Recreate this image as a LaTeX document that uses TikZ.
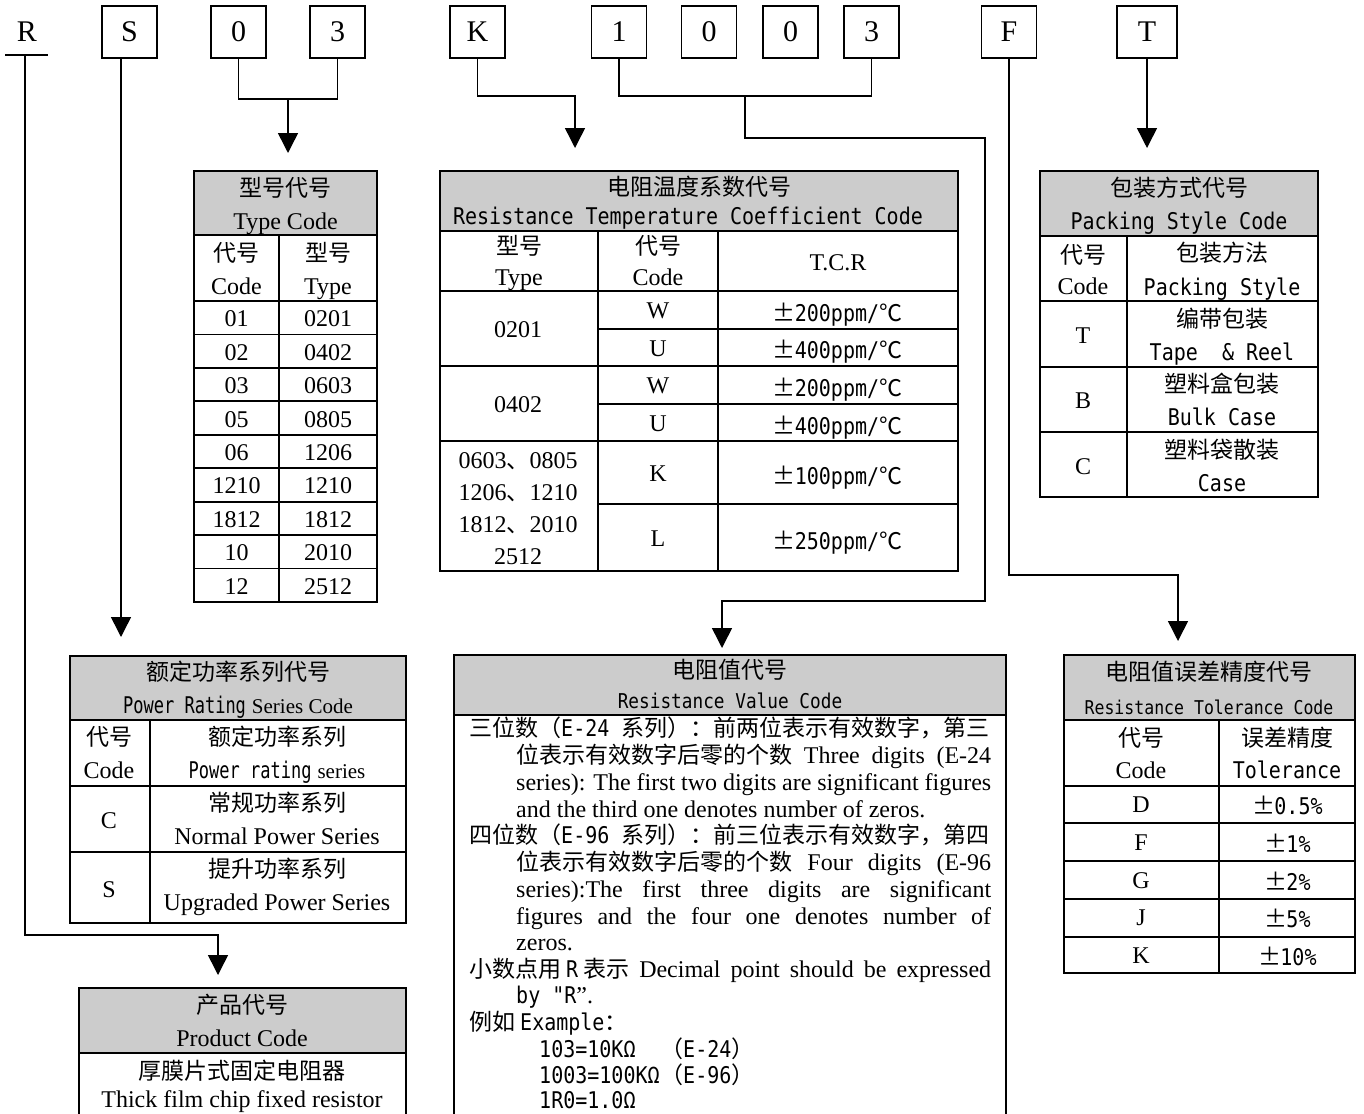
\documentclass[tikz,border=0pt]{standalone}
\usepackage{fontspec}
\usepackage{graphicx}
\setmainfont{Liberation Serif}
\newfontfamily\mycjk{Noto Sans CJK SC}
\newfontfamily\mymono[FakeStretch=0.87]{DejaVu Sans Mono}
\usetikzlibrary{arrows.meta}
\definecolor{hdrgray}{HTML}{CCCCCC}
\newcommand\ZH[1]{{\mycjk\fontsize{23}{26}\selectfont #1}}
\newcommand\MN[1]{{\mymono\fontsize{23}{26}\selectfont #1}}
\newcommand\MNS[2]{{\mymono\fontsize{#1}{#1}\selectfont #2}}
\newcommand\PM{\makebox[21pt][c]{\ZH{±}}}
\newcommand\DEG{\ZH{℃}}
\begin{document}
\begin{tikzpicture}[x=1pt,y=-1pt,
  font=\fontsize{24}{28}\selectfont,
  t/.style={inner sep=0pt,text height=16pt,text depth=0pt},
  letterbox/.style={draw,line width=1.6pt,minimum width=55pt,minimum height=52pt,inner sep=0pt,text height=20pt,text depth=0pt,font=\fontsize{30}{30}\selectfont},
  frame/.style={draw,line width=1.8pt,inner sep=0pt,outer sep=0pt},
  tab/.style={line width=1.8pt},
  conn/.style={line width=1.5pt},
  arr/.style={conn,-{Triangle[length=20pt,width=20pt]}}]
\useasboundingbox (0,0) rectangle (1364,1113);
\clip (0,0) rectangle (1364,1113);
\fill[white] (0,0) rectangle (1364,1113);

% ---------------- top code letters ----------------
\node[t,text height=20pt,font=\fontsize{30}{30}\selectfont] (bR) at (27,32) {R};
\coordinate (Ru) at (25,55);
\draw[conn] (5,55) -- (48,55);
\node[letterbox] (bS) at (129.5,32) {S};
\node[letterbox] (b0) at (238.5,32) {0};
\node[letterbox] (b3a) at (337.5,32) {3};
\node[letterbox] (bK) at (477.5,32) {K};
\node[letterbox] (b1) at (619,32) {1};
\node[letterbox] (b0b) at (709,32) {0};
\node[letterbox] (b0c) at (790.5,32) {0};
\node[letterbox] (b3b) at (871.5,32) {3};
\node[letterbox] (bF) at (1009,32) {F};
\node[letterbox,minimum width=60pt] (bT) at (1147,32) {T};

% ---------------- arrow targets ----------------
\coordinate (typearr) at (288,153);
\coordinate (tcrarr) at (575,148);
\coordinate (packarr) at (1147,148);
\coordinate (powarr) at (121,637);
\coordinate (valarr) at (722,648);
\coordinate (tolarr) at (1178,641);
\coordinate (prodarr) at (218,975);
\coordinate (j03) at (288,99);
\coordinate (jK) at (575,96);
\coordinate (j1003) at (745,96);
\coordinate (jF) at (1178,575);

% ---------------- connectors ----------------
\draw[arr] (Ru) -- (25,935) -| (prodarr);
\draw[arr] (bS.south -| powarr) -- (powarr);
\draw[conn] (b0.south) |- (j03) -| (b3a.south);
\draw[arr] (j03) -- (typearr);
\draw[arr] (bK.south) |- (jK) -- (tcrarr);
\draw[conn] (b1.south) |- (j1003) -| (b3b.south);
\draw[arr] (j1003) -- (745,138) -| (985,601) -| (valarr);
\draw[arr] (bF.south) |- (jF) -- (tolarr);
\draw[arr] (bT.south) -- (packarr);

% ---------------- Type code table ----------------
\fill[hdrgray] (194,171) rectangle (377,235);
\node[frame,minimum width=183pt,minimum height=431pt,anchor=north west] (typetab) at (194,171) {};
\draw[tab] (194,235) -- (377,235);
\draw[tab] (194,301) -- (377,301);
\foreach \i in {1,...,8} \draw[tab] (194,{301+33.44*\i}) -- (377,{301+33.44*\i});
\draw[tab] (279,235) -- (279,602);
\node[t] (ty1) at (285.5,188) {\ZH{型号代号}};
\node[t] (ty2) at (285.5,221) {Type Code};
\node[t] (ty3) at (236.5,253) {\ZH{代号}};
\node[t] (ty4) at (236.5,286) {Code};
\node[t] (ty5) at (328,253) {\ZH{型号}};
\node[t] (ty6) at (328,286) {Type};
\foreach \a/\b [count=\i from 0] in {01/0201,02/0402,03/0603,05/0805,06/1206,1210/1210,1812/1812,10/2010,12/2512}{
  \node[t] (tyc\i) at (236.5,{318.7+33.44*\i}) {\a};
  \node[t] (tyt\i) at (328,{318.7+33.44*\i}) {\b};
}

% ---------------- TCR table ----------------
\fill[hdrgray] (440,171) rectangle (958,231);
\node[frame,minimum width=518pt,minimum height=400pt,anchor=north west] (tcrtab) at (440,171) {};
\draw[tab] (440,231) -- (958,231);
\draw[tab] (440,291) -- (958,291);
\draw[tab] (440,366) -- (958,366);
\draw[tab] (440,441) -- (958,441);
\draw[tab] (598,329) -- (958,329);
\draw[tab] (598,404) -- (958,404);
\draw[tab] (598,504) -- (958,504);
\draw[tab] (598,231) -- (598,571);
\draw[tab] (718,231) -- (718,571);
\node[t] (tc1) at (699,187) {\ZH{电阻温度系数代号}};
\node[t] (tc2) at (688,216) {\MN{Resistance Temperature Coefficient Code}};
\node[t] (tc3) at (519,246) {\ZH{型号}};
\node[t] (tc4) at (519,277) {Type};
\node[t] (tc5) at (658,246) {\ZH{代号}};
\node[t] (tc6) at (658,277) {Code};
\node[t] (tc7) at (838,262) {T.C.R};
\node[t] (tc8) at (518,329) {0201};
\node[t] (tc9) at (518,404) {0402};
\node[t] (tc10) at (518,460) {0603\ZH{、}0805};
\node[t] (tc11) at (518,492) {1206\ZH{、}1210};
\node[t] (tc12) at (518,524) {1812\ZH{、}2010};
\node[t] (tc13) at (518,556) {2512};
\node[t] (tc14) at (658,310) {W};
\node[t] (tc15) at (658,348) {U};
\node[t] (tc16) at (658,385) {W};
\node[t] (tc17) at (658,423) {U};
\node[t] (tc18) at (658,473) {K};
\node[t] (tc19) at (658,538) {L};
\node[t] (tc20) at (838,313) {\PM\MN{200ppm/}\DEG};
\node[t] (tc21) at (838,350) {\PM\MN{400ppm/}\DEG};
\node[t] (tc22) at (838,388) {\PM\MN{200ppm/}\DEG};
\node[t] (tc23) at (838,426) {\PM\MN{400ppm/}\DEG};
\node[t] (tc24) at (838,476) {\PM\MN{100ppm/}\DEG};
\node[t] (tc25) at (838,541) {\PM\MN{250ppm/}\DEG};

% ---------------- Packing table ----------------
\fill[hdrgray] (1040,171) rectangle (1318,236);
\node[frame,minimum width=278pt,minimum height=326pt,anchor=north west] (packtab) at (1040,171) {};
\draw[tab] (1040,236) -- (1318,236);
\draw[tab] (1040,301) -- (1318,301);
\draw[tab] (1040,367) -- (1318,367);
\draw[tab] (1040,432) -- (1318,432);
\draw[tab] (1127,236) -- (1127,497);
\node[t] (pk1) at (1179,188) {\ZH{包装方式代号}};
\node[t] (pk2) at (1179,221) {\MN{Packing Style Code}};
\node[t] (pk3) at (1083,255) {\ZH{代号}};
\node[t] (pk4) at (1083,286) {Code};
\node[t] (pk5) at (1222,253) {\ZH{包装方法}};
\node[t] (pk6) at (1222,287) {\MN{Packing Style}};
\node[t] (pk7) at (1083,335) {T};
\node[t] (pk8) at (1222,319) {\ZH{编带包装}};
\node[t] (pk9) at (1222,352) {\MN{Tape\ \ \& Reel}};
\node[t] (pk10) at (1083,400) {B};
\node[t] (pk11) at (1222,384) {\ZH{塑料盒包装}};
\node[t] (pk12) at (1222,417) {\MN{Bulk Case}};
\node[t] (pk13) at (1083,466) {C};
\node[t] (pk14) at (1222,450) {\ZH{塑料袋散装}};
\node[t] (pk15) at (1222,483) {\MN{Case}};

% ---------------- Power rating table ----------------
\fill[hdrgray] (70,656) rectangle (406,720);
\node[frame,minimum width=336pt,minimum height=267pt,anchor=north west] (powtab) at (70,656) {};
\draw[tab] (70,720) -- (406,720);
\draw[tab] (70,786) -- (406,786);
\draw[tab] (70,852) -- (406,852);
\draw[tab] (150,720) -- (150,923);
\node[t] (pw1) at (238,672) {\ZH{额定功率系列代号}};
\node[t] (pw2) at (238,705) {\scalebox{0.85}[1]{\MN{Power Rating}} {\fontsize{21}{24}\selectfont Series Code}};
\node[t] (pw3) at (109,737) {\ZH{代号}};
\node[t] (pw4) at (109,770) {Code};
\node[t] (pw5) at (277,737) {\ZH{额定功率系列}};
\node[t] (pw6) at (277,770) {\scalebox{0.85}[1]{\MN{Power rating}} {\fontsize{21}{24}\selectfont series}};
\node[t] (pw7) at (109,820) {C};
\node[t] (pw8) at (277,803) {\ZH{常规功率系列}};
\node[t] (pw9) at (277,836) {Normal Power Series};
\node[t] (pw10) at (109,889) {S};
\node[t] (pw11) at (277,869) {\ZH{提升功率系列}};
\node[t] (pw12) at (277,902) {Upgraded Power Series};

% ---------------- Tolerance table ----------------
\fill[hdrgray] (1064,655) rectangle (1355,720);
\node[frame,minimum width=291pt,minimum height=318pt,anchor=north west] (toltab) at (1064,655) {};
\draw[tab] (1064,720) -- (1355,720);
\draw[tab] (1064,786) -- (1355,786);
\draw[tab] (1064,823) -- (1355,823);
\draw[tab] (1064,861) -- (1355,861);
\draw[tab] (1064,899) -- (1355,899);
\draw[tab] (1064,937) -- (1355,937);
\draw[tab] (1219,720) -- (1219,973);
\node[t] (tl1) at (1209,672) {\ZH{电阻值误差精度代号}};
\node[t] (tl2) at (1209,706) {\MNS{19}{Resistance Tolerance Code}};
\node[t] (tl3) at (1141,738) {\ZH{代号}};
\node[t] (tl4) at (1141,770) {Code};
\node[t] (tl5) at (1287,738) {\ZH{误差精度}};
\node[t] (tl6) at (1287,770) {\MN{Tolerance}};
\node[t] (tl7) at (1141,804) {D};
\node[t] (tl8) at (1288,806) {\PM\MN{0.5\%}};
\node[t] (tl9) at (1141,842) {F};
\node[t] (tl10) at (1288,844) {\PM\MN{1\%}};
\node[t] (tl11) at (1141,880) {G};
\node[t] (tl12) at (1288,882) {\PM\MN{2\%}};
\node[t] (tl13) at (1141,917) {J};
\node[t] (tl14) at (1288,919) {\PM\MN{5\%}};
\node[t] (tl15) at (1141,955) {K};
\node[t] (tl16) at (1288,957) {\PM\MN{10\%}};

% ---------------- Resistance value box ----------------
\fill[hdrgray] (454,655) rectangle (1006,715);
\draw[tab] (454,1130) -- (454,655) -- (1006,655) -- (1006,1130);
\draw[tab] (454,715) -- (1006,715);
\node[t] (rv1) at (730,670) {\ZH{电阻值代号}};
\node[t] (rv2) at (730,700) {\MNS{20.4}{Resistance Value Code}};
\node[t,anchor=west] (v1) at (469,728) {\ZH{三位数（}\MN{E-24 }\ZH{系列）：前两位表示有效数字，第三}};
\node[t,anchor=west] (v2) at (516,755) {\makebox[475pt][s]{\ZH{位表示有效数字后零的个数} Three digits (E-24}};
\node[t,anchor=west] (v3) at (516,782) {\makebox[475pt][s]{series): The first two digits are significant figures}};
\node[t,anchor=west] (v4) at (516,809) {and the third one denotes number of zeros.};
\node[t,anchor=west] (v5) at (469,835) {\ZH{四位数（}\MN{E-96 }\ZH{系列）：前三位表示有效数字，第四}};
\node[t,anchor=west] (v6) at (516,862) {\makebox[475pt][s]{\ZH{位表示有效数字后零的个数} Four digits (E-96}};
\node[t,anchor=west] (v7) at (516,889) {\makebox[475pt][s]{series):The first three digits are significant}};
\node[t,anchor=west] (v8) at (516,916) {\makebox[475pt][s]{figures and the four one denotes number of}};
\node[t,anchor=west] (v9) at (516,942) {zeros.};
\node[t,anchor=west] (v10) at (469,969) {\makebox[522pt][s]{\ZH{小数点用}\kern5pt\MN{R}\kern5pt\ZH{表示} Decimal point should be expressed}};
\node[t,anchor=west] (v11) at (516,995) {\MN{by "R}”.};
\node[t,anchor=west] (v12) at (469,1022) {\ZH{例如}\kern5pt\MN{Example}\ZH{：}};
\node[t,anchor=west] (v13) at (539,1049) {\MN{103=10KΩ}};
\node[t,anchor=west] (v13b) at (660,1049) {\ZH{（}\MN{E-24}\ZH{）}};
\node[t,anchor=west] (v14) at (539,1075) {\MN{1003=100KΩ}};
\node[t,anchor=west] (v14b) at (660,1075) {\ZH{（}\MN{E-96}\ZH{）}};
\node[t,anchor=west] (v15) at (539,1100) {\MN{1R0=1.0Ω}};

% ---------------- Product code box ----------------
\fill[hdrgray] (79,988) rectangle (406,1053);
\draw[tab] (79,1130) -- (79,988) -- (406,988) -- (406,1130);
\draw[tab] (79,1053) -- (406,1053);
\node[t] (pr1) at (242,1005) {\ZH{产品代号}};
\node[t] (pr2) at (242,1038) {Product Code};
\node[t] (pr3) at (242,1071) {\ZH{厚膜片式固定电阻器}};
\node[t] (pr4) at (242,1099) {Thick film chip fixed resistor};
\end{tikzpicture}
\end{document}
